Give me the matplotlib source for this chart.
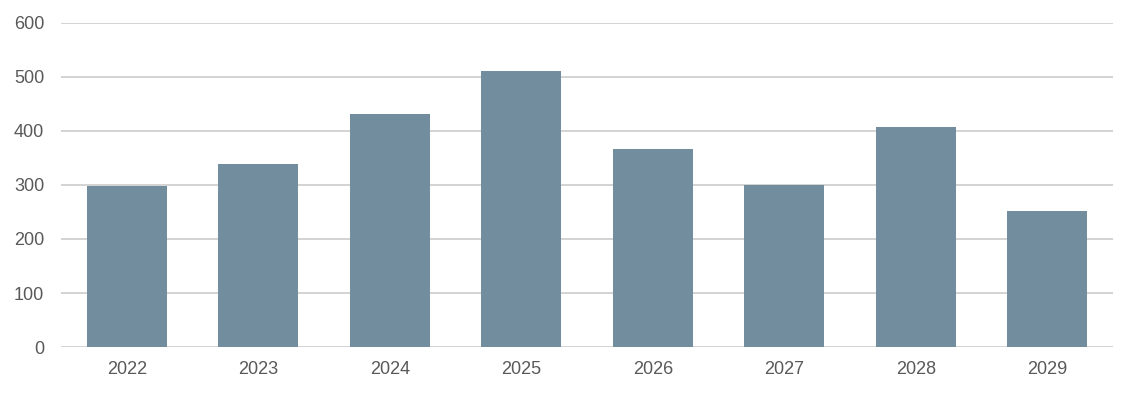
import matplotlib
matplotlib.use("Agg")
import matplotlib.pyplot as plt

# ── Data ──
years = ["2022", "2023", "2024", "2025", "2026", "2027", "2028", "2029"]
values = [298, 339, 431, 511, 367, 300, 407, 252]
y_ticks = [0, 100, 200, 300, 400, 500, 600]

# ── Style ──
bar_color = "#728e9e"
grid_color = "#cccccc"
text_color = "#595959"

plt.rcParams.update({
    "font.family": ["Liberation Sans", "DejaVu Sans"],
    "font.size": 13,
})

fig = plt.figure(figsize=(11.37, 3.93), dpi=100)
ax = fig.add_axes([61 / 1137, 1 - 347 / 393, (1113 - 61) / 1137, (347 - 23) / 393])

x = range(len(years))
ax.bar(x, values, width=0.61, color=bar_color, zorder=3)

ax.set_xlim(-0.5, len(years) - 0.5)
ax.set_ylim(0, 600)
ax.set_yticks(y_ticks)
ax.set_xticks(list(x))
ax.set_xticklabels(years)

ax.yaxis.grid(True, color=grid_color, linewidth=1.2, zorder=0)
ax.set_axisbelow(True)
for sp in ax.spines.values():
    sp.set_visible(False)

ax.tick_params(axis="both", length=0, colors=text_color, labelsize=13)
ax.tick_params(axis="y", pad=12)
ax.tick_params(axis="x", pad=10)

fig.savefig("out.png", dpi=100, facecolor="white")
